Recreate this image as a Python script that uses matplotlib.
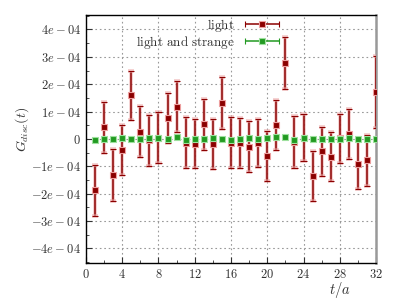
import numpy as np
import matplotlib
matplotlib.use("Agg")
import matplotlib.pyplot as plt
from matplotlib.ticker import MultipleLocator, FuncFormatter
from matplotlib.container import ErrorbarContainer
from matplotlib.legend_handler import HandlerErrorbar
import matplotlib.patheffects as pe

plt.rcParams['mathtext.fontset'] = 'cm'
plt.rcParams['font.family'] = 'DejaVu Serif'

t = np.arange(1, 33)
light = [-1.87, 0.42, -1.31, -0.40, 1.60, 0.27, -0.04, 0.05, 0.76, 1.18,
         -0.13, -0.17, 0.53, -0.19, 1.31, -0.13, -0.15, -0.28, -0.15, -0.61,
         0.52, 2.78, -0.10, 0.05, -1.36, -0.45, -0.65, 0.02, 0.19, -0.92,
         -0.78, 1.71]
light_err = [0.93, 0.92, 0.94, 0.92, 0.90, 0.92, 0.93, 0.92, 0.92, 0.92,
             0.92, 0.90, 0.94, 0.92, 0.94, 0.92, 0.91, 0.93, 0.89, 0.91,
             0.91, 0.94, 0.95, 0.86, 0.91, 0.90, 0.90, 0.90, 0.92, 0.92,
             0.93, 1.31]
ls_vals = [-0.03, 0.01, 0.00, 0.05, 0.01, -0.01, 0.02, 0.04, 0.01, 0.08,
           -0.05, -0.01, 0.00, 0.02, -0.01, -0.04, 0.01, 0.05, 0.01, 0.04,
           0.06, 0.07, -0.02, 0.04, -0.01, 0.00, 0.01, 0.01, 0.02, 0.01,
           0.01, -0.01]
ls_err = [0.02] * 32
labels = [r'$\mathrm{light}$', r'$\mathrm{light\ and\ strange}$']

scale = 1e-4
light = np.array(light) * scale
light_err = np.array(light_err) * scale
ls_vals = np.array(ls_vals) * scale
ls_err = np.array(ls_err) * scale

fig = plt.figure(figsize=(3.99, 2.99), dpi=100)
ax = fig.add_axes([0.2155, 0.1204, 0.7269, 0.8296])

red = '#8b0000'
green = '#229a22'
halo_r = [pe.Stroke(linewidth=2.6, foreground=(0.92, 0.65, 0.65, 0.6)), pe.Normal()]

kw_r = dict(fmt='s', color=red, ms=4.6, mec=(0.93, 0.62, 0.62), mew=0.8,
            ecolor=red, elinewidth=1.1, capsize=2.2, capthick=1.1)
kw_g = dict(fmt='s', color=green, ms=4.6, mec=(0.62, 0.88, 0.62), mew=0.8,
            ecolor=green, elinewidth=1.1, capsize=2.2, capthick=1.1)

e1 = ax.errorbar(t, light, yerr=light_err, zorder=3, **kw_r)
for c in list(e1[1]) + list(e1[2]):
    c.set_path_effects(halo_r)
e2 = ax.errorbar(t, ls_vals, yerr=ls_err, zorder=4, **kw_g)

# legend proxies (horizontal error bar style)
p1 = ax.errorbar([np.nan], [np.nan], xerr=[1], label=labels[0], **kw_r)
p2 = ax.errorbar([np.nan], [np.nan], xerr=[1], label=labels[1], **kw_g)

ax.set_xlim(0, 32)
ax.set_ylim(-4.53e-4, 4.53e-4)
ax.xaxis.set_major_locator(MultipleLocator(4))
ax.xaxis.set_minor_locator(MultipleLocator(2))
ax.yaxis.set_major_locator(MultipleLocator(1e-4))
ax.yaxis.set_minor_locator(MultipleLocator(0.5e-4))

def yfmt(v, pos):
    k = int(round(v / 1e-4))
    if k == 0:
        return r'$0$'
    return r'$%de-04$' % k
ax.yaxis.set_major_formatter(FuncFormatter(yfmt))
ax.xaxis.set_major_formatter(FuncFormatter(lambda v, p: r'$%d$' % int(round(v))))

ax.tick_params(direction='in', which='both', top=False, right=False,
               labelsize=9, colors='#333333', labelcolor='#333333')
ax.tick_params(which='major', length=4)
ax.tick_params(which='minor', length=2)
ax.grid(True, which='major', linestyle=(0, (1.5, 2.5)), color='#999999', linewidth=0.8)

for s in ['left', 'bottom', 'top']:
    ax.spines[s].set_color('black')
    ax.spines[s].set_linewidth(1.0)
ax.spines['right'].set_color('#999999')
ax.spines['right'].set_linewidth(1.8)

ax.set_xlabel(r'$t/a$', fontsize=10.5, color='#333333', va='center')
ax.xaxis.set_label_coords(0.876, -0.107)
ax.set_ylabel(r'$G_{disc}(t)$', fontsize=10, color='#333333')
ax.yaxis.set_label_coords(-0.19, 0.54)

leg = ax.legend(handles=[p1, p2], loc='upper right', frameon=False, markerfirst=False,
                fontsize=9.5, handlelength=3.0, borderaxespad=0.0, borderpad=0.15,
                labelspacing=0.0, handletextpad=0.6, bbox_to_anchor=(0.683, 1.0),
                handler_map={ErrorbarContainer: HandlerErrorbar(xerr_size=1.3)})
for txt in leg.get_texts():
    txt.set_color('#333333')

fig.savefig('out.png', dpi=100)
